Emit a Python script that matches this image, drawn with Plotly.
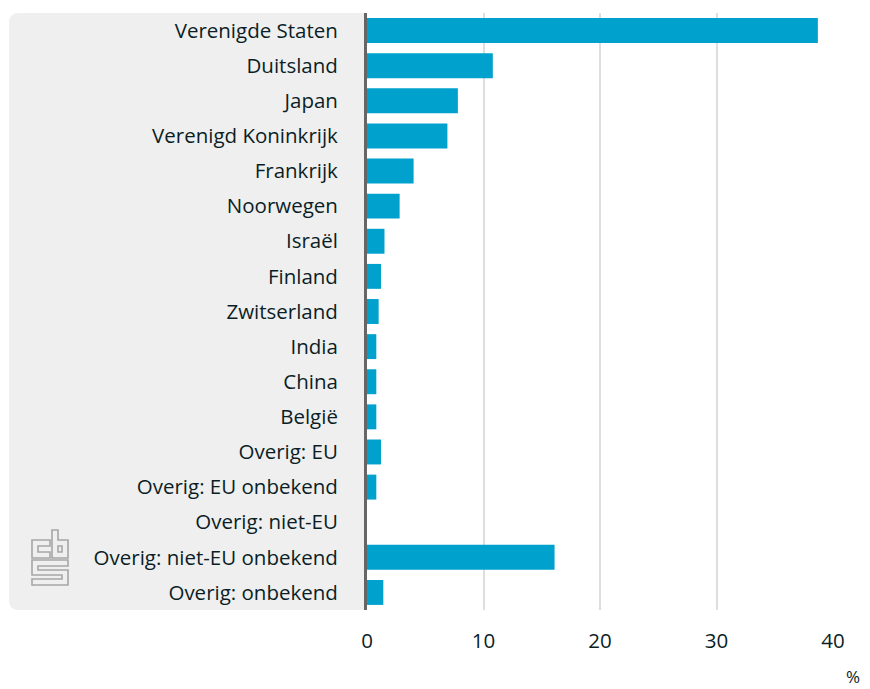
import plotly.graph_objects as go

categories = [
    "Verenigde Staten", "Duitsland", "Japan", "Verenigd Koninkrijk", "Frankrijk",
    "Noorwegen", "Israël", "Finland", "Zwitserland", "India", "China", "België",
    "Overig: EU", "Overig: EU onbekend", "Overig: niet-EU",
    "Overig: niet-EU onbekend", "Overig: onbekend",
]
values = [38.7, 10.8, 7.8, 6.9, 4.0, 2.8, 1.5, 1.2, 1.0, 0.8, 0.8, 0.8,
          1.2, 0.8, 0.0, 16.1, 1.4]
x_ticks = [0, 10, 20, 30, 40]
x_unit = "%"

# page body has an 8px margin; size the figure so it fits the 870x689 window
OFF = 8
W, H = 870 - OFF, 689 - OFF
# plot area in reference pixels: x 367..833, y 13..610
L, T = 367 - OFF, 13 - OFF
R = W - (833 - OFF)
B = H - (610 - OFF)
PW, PH = W - L - R, H - T - B

BAR = "#00a1cd"
TXT = "#0b1e26"
FONT = "Open Sans"
FS = 20.5


def px(x):
    return (x - OFF - L) / PW


def py(y):
    return (H - B - (y - OFF)) / PH


def path(points, close=True):
    s = "M " + " L ".join(f"{px(a):.5f},{py(b):.5f}" for a, b in points)
    return s + (" Z" if close else "")


fig = go.Figure(go.Bar(
    x=values, y=categories, orientation="h",
    marker=dict(color=BAR, line=dict(width=0)),
    hoverinfo="x+y",
))

shapes = []
# grey label panel with rounded left corners (reference pixels)
r = 10
x0, x1, y0, y1 = 9, 367, 13, 610
panel = (f"M {px(x1):.5f},{py(y0):.5f} L {px(x0 + r):.5f},{py(y0):.5f} "
         f"Q {px(x0):.5f},{py(y0):.5f} {px(x0):.5f},{py(y0 + r):.5f} "
         f"L {px(x0):.5f},{py(y1 - r):.5f} "
         f"Q {px(x0):.5f},{py(y1):.5f} {px(x0 + r):.5f},{py(y1):.5f} "
         f"L {px(x1):.5f},{py(y1):.5f} Z")
shapes.append(dict(type="path", path=panel, xref="paper", yref="paper",
                   fillcolor="#efefef", line=dict(width=0), layer="below"))

# CBS logo (outlined)
logo_c = [(50, 540), (32, 540), (32, 558), (50, 558), (50, 552), (38, 552),
          (38, 546), (50, 546)]
logo_b = [(52, 530), (58, 530), (58, 540), (68, 540), (68, 558), (52, 558)]
logo_b_hole = [(58, 546), (62, 546), (62, 552), (58, 552)]
logo_s = [(68, 560), (32, 560), (32, 575), (62, 575), (62, 579), (32, 579),
          (32, 585), (68, 585), (68, 570), (38, 570), (38, 566), (68, 566)]
for pts in (logo_c, logo_b, logo_b_hole, logo_s):
    shapes.append(dict(type="path", path=path(pts), xref="paper", yref="paper",
                       line=dict(color="#a6a6a6", width=1.6),
                       fillcolor="rgba(0,0,0,0)", layer="above"))

fig.update_layout(
    width=W, height=H,
    margin=dict(l=L, r=R, t=T, b=B, pad=0),
    paper_bgcolor="white", plot_bgcolor="rgba(0,0,0,0)",
    font=dict(family=FONT, size=FS, color=TXT),
    showlegend=False,
    bargap=0.29,
    shapes=shapes,
    annotations=[dict(text=x_unit, x=px(853), y=py(676), xref="paper", yref="paper",
                      showarrow=False, xanchor="center", yanchor="middle",
                      borderpad=0, font=dict(family=FONT, size=17, color=TXT))],
)
fig.update_xaxes(
    range=[0, 40], tickvals=x_ticks, ticktext=[str(v) for v in x_ticks],
    showgrid=True, gridcolor="#dedede", gridwidth=2, zeroline=False,
    showline=False, ticks="outside", ticklen=12, tickcolor="rgba(0,0,0,0)",
    tickfont=dict(size=FS, color=TXT), fixedrange=True,
)
fig.update_yaxes(
    autorange="reversed", categoryorder="array", categoryarray=categories,
    showgrid=False, zeroline=False, showline=True, linecolor="#666666",
    linewidth=3, ticks="outside", ticklen=22, tickcolor="rgba(0,0,0,0)",
    tickfont=dict(size=FS, color=TXT), fixedrange=True,
)

fig.write_html("out.html")
